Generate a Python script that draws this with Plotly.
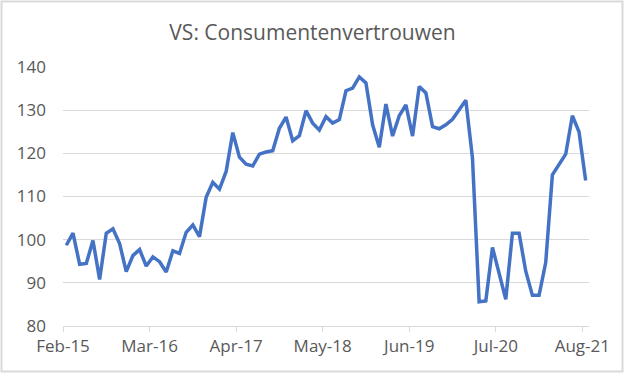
import plotly.graph_objects as go

values = [98.7, 101.5, 94.3, 94.5, 99.8, 90.8, 101.5, 102.5, 99.1, 92.6, 96.3, 97.7, 93.9,
          96.0, 94.9, 92.5, 97.4, 96.8, 101.7, 103.4, 100.7, 109.8, 113.3, 111.7, 115.8, 124.8,
          119.1, 117.5, 117.1, 119.8, 120.3, 120.6, 125.8, 128.4, 122.9, 124.1, 129.9, 127.0, 125.4,
          128.5, 127.0, 127.8, 134.5, 135.1, 137.7, 136.3, 126.6, 121.4, 131.4, 124.0, 128.7, 131.2,
          124.0, 135.5, 134.0, 126.2, 125.7, 126.6, 127.9, 130.1, 132.3, 118.9, 85.6, 85.8, 98.2,
          92.2, 86.2, 101.5, 101.5, 92.7, 87.1, 87.1, 94.7, 115.0, 117.5, 119.8, 128.7, 125.0, 113.7]
months = ["Jan", "Feb", "Mar", "Apr", "May", "Jun", "Jul", "Aug", "Sep", "Oct", "Nov", "Dec"]
categories = []
m, yr = 1, 15
for _ in values:
    categories.append(f"{months[m]}-{yr}")
    m += 1
    if m == 12:
        m, yr = 0, yr + 1
tick_labels = ["Feb-15", "Mar-16", "Apr-17", "May-18", "Jun-19", "Jul-20", "Aug-21"]
yticks = [80, 90, 100, 110, 120, 130, 140]

x = list(range(len(values)))
tickvals = [categories.index(t) - 0.5 for t in tick_labels]

L, R, T, B = 63, 36, 67, 50
W, H = 625, 376
pw, ph = W - L - R, H - T - B

fig = go.Figure()
fig.add_trace(go.Scatter(x=x, y=values, mode="lines", text=categories,
                         line=dict(color="#4472C4", width=3.5)))
fig.update_layout(
    width=W, height=H,
    margin=dict(l=L, r=R, t=T, b=B),
    paper_bgcolor="white", plot_bgcolor="white",
    showlegend=False,
    font=dict(family="Open Sans, Liberation Sans, sans-serif", color="#595959"),
    title=dict(text="VS: Consumentenvertrouwen", x=0.5, xanchor="center",
               y=1 - 33 / H, yanchor="middle",
               font=dict(size=21, color="#595959")),
    xaxis=dict(range=[-0.5, len(values) - 0.5], tickvals=tickvals, ticktext=tick_labels,
               showgrid=False, showline=True, linecolor="#d9d9d9", linewidth=1,
               ticks="outside", ticklen=5, tickcolor="#d9d9d9",
               tickfont=dict(size=17, color="#595959"), zeroline=False),
    yaxis=dict(range=[80, 140], tickvals=yticks, showgrid=True, gridcolor="#d9d9d9",
               gridwidth=1, zeroline=False, showline=False, ticks="",
               ticklabelstandoff=16,
               tickfont=dict(size=17, color="#595959")),
)
fig.add_shape(type="rect", xref="paper", yref="paper",
              x0=(1.5 - L) / pw, x1=(622.5 - L) / pw,
              y0=(H - B - 371.5) / ph, y1=(H - B - 1.5) / ph,
              line=dict(color="#d9d9d9", width=2), layer="below")
fig.write_html("out.html", config={"displayModeBar": False},
               post_script="document.body.style.margin='0';")
